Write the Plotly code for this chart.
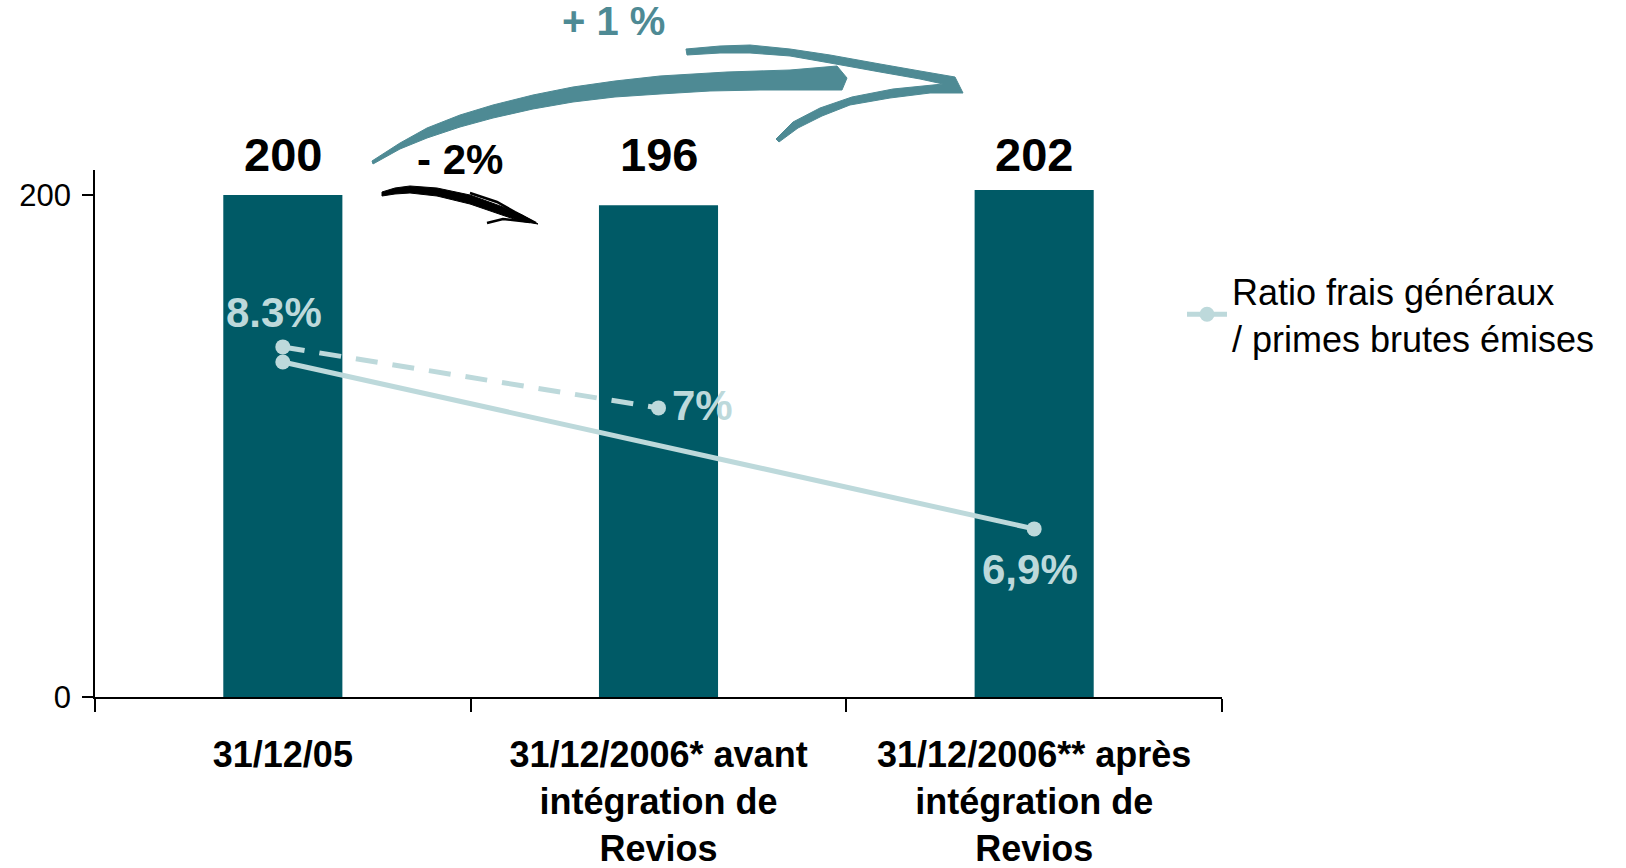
import plotly.graph_objects as go

# ---------------- data ----------------
categories = [
    "31/12/05",
    "31/12/2006* avant<br>intégration de<br>Revios",
    "31/12/2006** après<br>intégration de<br>Revios",
]
bar_values = [200, 196, 202]

# ratio frais généraux / primes brutes émises
ratio_cats = [categories[0], categories[2]]
ratio_values = [8.3, 6.9]
ratio_labels = ["8.3%", "6,9%"]

# dashed series (before integration)
ratio_before_cats = [categories[0], categories[1]]
ratio_before_values = [8.3, 7.0]
ratio_before_labels = ["7%"]

y_ticks = [0, 200]
legend_name = "Ratio frais généraux<br>/ primes brutes émises"

# ---------------- styles ----------------
W, H = 1626, 868
L, R, T, B = 95, 1222, 170, 697
BAR = "#005A66"
TEAL = "#4E8A94"
LIGHT = "#BDD9DB"
FONT = "Liberation Sans, Arial, sans-serif"


def px(x, y):
    return (x - L) / (R - L), (B - y) / (B - T)


def path(points, close=True):
    s = ""
    for i, (x, y) in enumerate(points):
        xp, yp = px(x, y)
        s += ("M" if i == 0 else "L") + f"{xp:.5f},{yp:.5f} "
    return s + ("Z" if close else "")


fig = go.Figure()

fig.add_trace(go.Bar(
    x=categories, y=bar_values, marker=dict(color=BAR, line=dict(width=0)),
    width=0.317, showlegend=False, hoverinfo="skip",
))

fig.add_trace(go.Scatter(
    x=ratio_before_cats, y=ratio_before_values, yaxis="y3", mode="lines+markers",
    line=dict(color=LIGHT, width=5, dash="22px,15px"),
    marker=dict(color=LIGHT, size=15), showlegend=False, hoverinfo="skip",
))

fig.add_trace(go.Scatter(
    x=ratio_cats, y=ratio_values, yaxis="y2", mode="lines+markers",
    line=dict(color=LIGHT, width=5),
    marker=dict(color=LIGHT, size=15), name=legend_name, hoverinfo="skip",
))

annotations = []
# bar value labels (aligned on the tallest bar, as in the original)
label_level = max(bar_values)
for c, v in zip(categories, bar_values):
    annotations.append(dict(
        x=c, y=label_level, xref="x", yref="y", text=str(v), showarrow=False,
        yanchor="bottom", yshift=7,
        font=dict(family=FONT, size=47, color="black", weight="bold"),
    ))

# ratio labels
annotations.append(dict(
    x=ratio_cats[0], y=ratio_values[0], xref="x", yref="y2", text=ratio_labels[0],
    showarrow=False, yanchor="middle", yshift=49, xshift=-9,
    font=dict(family=FONT, size=42, color=LIGHT, weight="bold"),
))
annotations.append(dict(
    x=ratio_cats[1], y=ratio_values[1], xref="x", yref="y2", text=ratio_labels[1],
    showarrow=False, yanchor="middle", yshift=-41, xshift=-4,
    font=dict(family=FONT, size=42, color=LIGHT, weight="bold"),
))
annotations.append(dict(
    x=ratio_before_cats[1], y=ratio_before_values[1], xref="x", yref="y3",
    text=ratio_before_labels[0], showarrow=False, xanchor="left", xshift=11,
    yanchor="middle", yshift=2,
    font=dict(family=FONT, size=42, color=LIGHT, weight="bold"),
))

# evolution labels
x1, y1 = px(613, 21)
annotations.append(dict(
    x=x1, y=y1, xref="paper", yref="paper", text="+ 1 %", showarrow=False,
    xanchor="center", yanchor="middle",
    font=dict(family=FONT, size=40, color=TEAL, weight="bold"),
))
x2, y2 = px(460, 159)
annotations.append(dict(
    x=x2, y=y2, xref="paper", yref="paper", text="- 2%", showarrow=False,
    xanchor="center", yanchor="middle",
    font=dict(family=FONT, size=42, color="black", weight="bold"),
))

shapes = []
# big teal swoosh
thick = [(372, 161), (400, 143), (427, 128), (460, 115), (493, 105), (533, 95),
         (573, 87), (615, 81), (660, 76), (727, 72), (790, 70), (837, 66),
         (847, 78), (842, 90), (800, 90), (760, 90), (710, 91), (660, 94),
         (615, 97), (573, 102), (533, 109), (493, 118), (460, 127), (427, 138),
         (400, 149), (373, 164)]
shapes.append(dict(type="path", xref="paper", yref="paper", path=path(thick),
                   fillcolor=TEAL, line=dict(color=TEAL, width=1), layer="above"))
thin = [(686, 49), (720, 46), (750, 45), (790, 49), (830, 55), (880, 64),
        (920, 71), (955, 77), (963, 93), (930, 93), (890, 98), (850, 105),
        (822, 116), (798, 128), (779, 142), (776, 139), (793, 122), (820, 108),
        (852, 97), (893, 89), (943, 84), (920, 79), (880, 72), (830, 63),
        (790, 56), (750, 53), (720, 53), (687, 55)]
shapes.append(dict(type="path", xref="paper", yref="paper", path=path(thin),
                   fillcolor=TEAL, line=dict(color=TEAL, width=1), layer="above"))
# black swoosh
black = [(382, 192), (395, 188), (410, 186), (437, 188), (470, 195), (503, 207),
         (522, 215), (538, 224), (520, 221), (505, 216), (470, 204), (437, 196),
         (410, 193), (395, 194), (382, 196)]
shapes.append(dict(type="path", xref="paper", yref="paper", path=path(black),
                   fillcolor="black", line=dict(color="black", width=1), layer="above"))
shapes.append(dict(type="path", xref="paper", yref="paper",
                   path=path([(470, 193), (497, 202), (515, 212), (536, 223)], close=False),
                   line=dict(color="black", width=2.5), layer="above"))
shapes.append(dict(type="path", xref="paper", yref="paper",
                   path=path([(487, 223), (503, 219), (530, 222)], close=False),
                   line=dict(color="black", width=2.5), layer="above"))

lx, ly = px(1182, 261)

fig.update_layout(
    width=W, height=H,
    margin=dict(l=L, r=W - R, t=T, b=H - B, pad=0, autoexpand=False),
    paper_bgcolor="white", plot_bgcolor="white",
    font=dict(family=FONT, color="black"),
    xaxis=dict(
        type="category", range=[-0.5, 2.5], showline=True, linecolor="black",
        linewidth=2, ticks="outside", tickson="boundaries", ticklen=13,
        tickwidth=1.5, tickcolor="black", showgrid=False, zeroline=False,
        tickfont=dict(family=FONT, size=36, color="black", weight="bold"),
        ticklabelstandoff=25, fixedrange=True, automargin=False,
    ),
    yaxis=dict(
        range=[0, 210], tickvals=y_ticks, showline=True, linecolor="black",
        linewidth=1.5, ticks="outside", ticklen=11, tickwidth=1.5,
        tickcolor="black", showgrid=False, zeroline=False,
        tickfont=dict(family=FONT, size=31, color="black"),
        ticklabelstandoff=5, automargin=False,
    ),
    yaxis2=dict(overlaying="y", range=[5.49, 9.91], visible=False, anchor="x"),
    yaxis3=dict(overlaying="y", range=[0.84, 12.07], visible=False, anchor="x"),
    legend=dict(
        x=lx, y=ly, xanchor="left", yanchor="top",
        font=dict(family=FONT, size=36, color="black"),
        bgcolor="rgba(0,0,0,0)", borderwidth=0, itemwidth=40,
    ),
    showlegend=True,
    annotations=annotations,
    shapes=shapes,
)

fig.write_html(
    "out.html",
    config={"displayModeBar": False},
    post_script="document.body.style.margin='0';document.body.style.overflow='hidden';",
)
